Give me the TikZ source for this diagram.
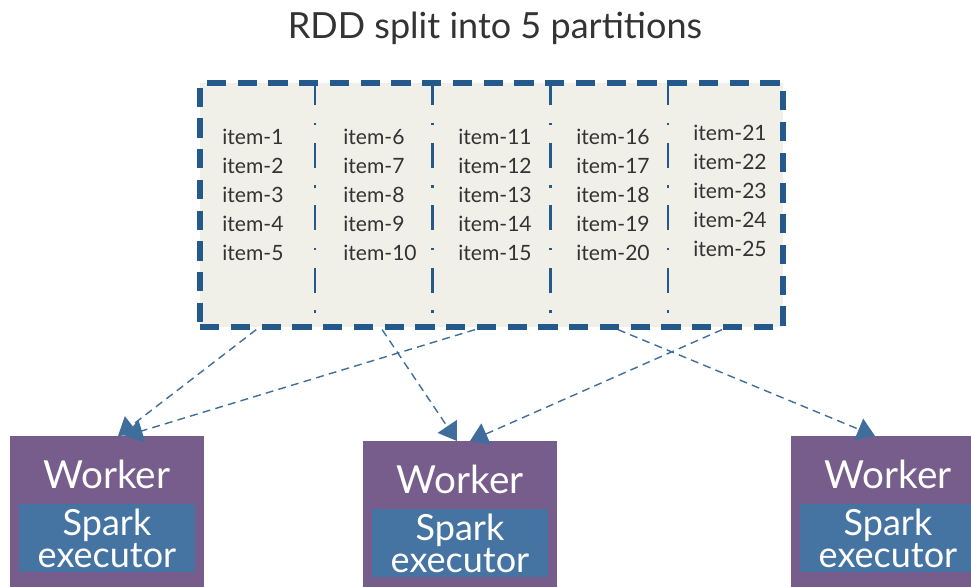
\documentclass[tikz,border=0pt]{standalone}
\usepackage{fontspec}
\setmainfont{Lato}
\usetikzlibrary{arrows.meta, calc, positioning}
\definecolor{rddblue}{HTML}{245A8B}
\definecolor{rddfill}{HTML}{F0EFE8}
\definecolor{linkblue}{HTML}{3F6E9D}
\definecolor{workerpurple}{HTML}{765D8B}
\definecolor{execblue}{HTML}{4674A2}
\definecolor{titlegray}{HTML}{333333}

\begin{document}
\begin{tikzpicture}[x=0.02cm, y=-0.02cm,
		rdd/.style={draw=rddblue, fill=rddfill, line width=3pt, dash pattern=on 11pt off 6.5pt, minimum width=11.66cm, minimum height=4.88cm, inner sep=0pt},
		divider/.style={rddblue, line width=1.6pt, dash pattern=on 14pt off 10pt on 1.6pt off 10pt},
		items/.style={anchor=west, align=left, inner sep=0pt, font=\fontsize{12}{16.4}\selectfont, text=black!80},
		worker/.style={fill=workerpurple, minimum width=3.88cm, minimum height=3.6cm, anchor=north, inner sep=0pt},
		exec/.style={fill=execblue, text=white, minimum width=3.54cm, minimum height=1.36cm, inner sep=0pt, align=center, font=\fontsize{20.5}{18.7}\selectfont},
		wlabel/.style={text=white, inner sep=0pt, font=\fontsize{22}{22}\selectfont},
		link/.style={linkblue, line width=0.8pt, dash pattern=on 4.5pt off 3pt, -{Triangle[width=13pt, length=10pt]}}
	]
		\clip (0,0) rectangle (971,586);
		\node[text=titlegray, font=\fontsize{20.5}{24}\selectfont] (title) at (495,28) {RDD split into 5 partitions};
		% the RDD and its partitions
		\node[rdd] (rdd) at (491.5,205) {};
		\foreach \f in {0.2,0.4,0.6,0.8}
			\draw[divider] ($(rdd.north west)!\f!(rdd.north east)$) -- ($(rdd.south west)!\f!(rdd.south east)$);
		\node[items] (i1) at (222,195) {item-1\\item-2\\item-3\\item-4\\item-5};
		\node[items] (i2) at (343,195) {item-6\\item-7\\item-8\\item-9\\item-10};
		\node[items] (i3) at (458,195) {item-11\\item-12\\item-13\\item-14\\item-15};
		\node[items] (i4) at (576,195) {item-16\\item-17\\item-18\\item-19\\item-20};
		\node[items] (i5) at (693,191) {item-21\\item-22\\item-23\\item-24\\item-25};
		% workers
		\node[worker] (w1) at (107,436) {};
		\node[wlabel, below=0.48cm of w1.north] (l1) {Worker};
		\node[exec, below=1.36cm of w1.north, anchor=north] (e1) {Spark\\executor};
		\node[worker] (w2) at (460,441) {};
		\node[wlabel, below=0.48cm of w2.north] (l2) {Worker};
		\node[exec, below=1.36cm of w2.north, anchor=north] (e2) {Spark\\executor};
		\node[worker] (w3) at (888,436) {};
		\node[wlabel, below=0.48cm of w3.north] (l3) {Worker};
		\node[exec, below=1.36cm of w3.north, anchor=north] (e3) {Spark\\executor};
		% partitions sent to workers
		\draw[link] ($(rdd.south west)!0.1!(rdd.south east)$) -- ([xshift=0.22cm]w1.north);
		\draw[link] ($(rdd.south west)!0.472!(rdd.south east)$) -- ([xshift=0.36cm]w1.north);
		\draw[link] ($(rdd.south west)!0.314!(rdd.south east)$) -- ([xshift=-0.06cm]w2.north);
		\draw[link] ($(rdd.south west)!0.892!(rdd.south east)$) -- ([xshift=0.2cm]w2.north);
		\draw[link] ($(rdd.south west)!0.715!(rdd.south east)$) -- ([xshift=-0.26cm]w3.north);
\end{tikzpicture}
\end{document}
